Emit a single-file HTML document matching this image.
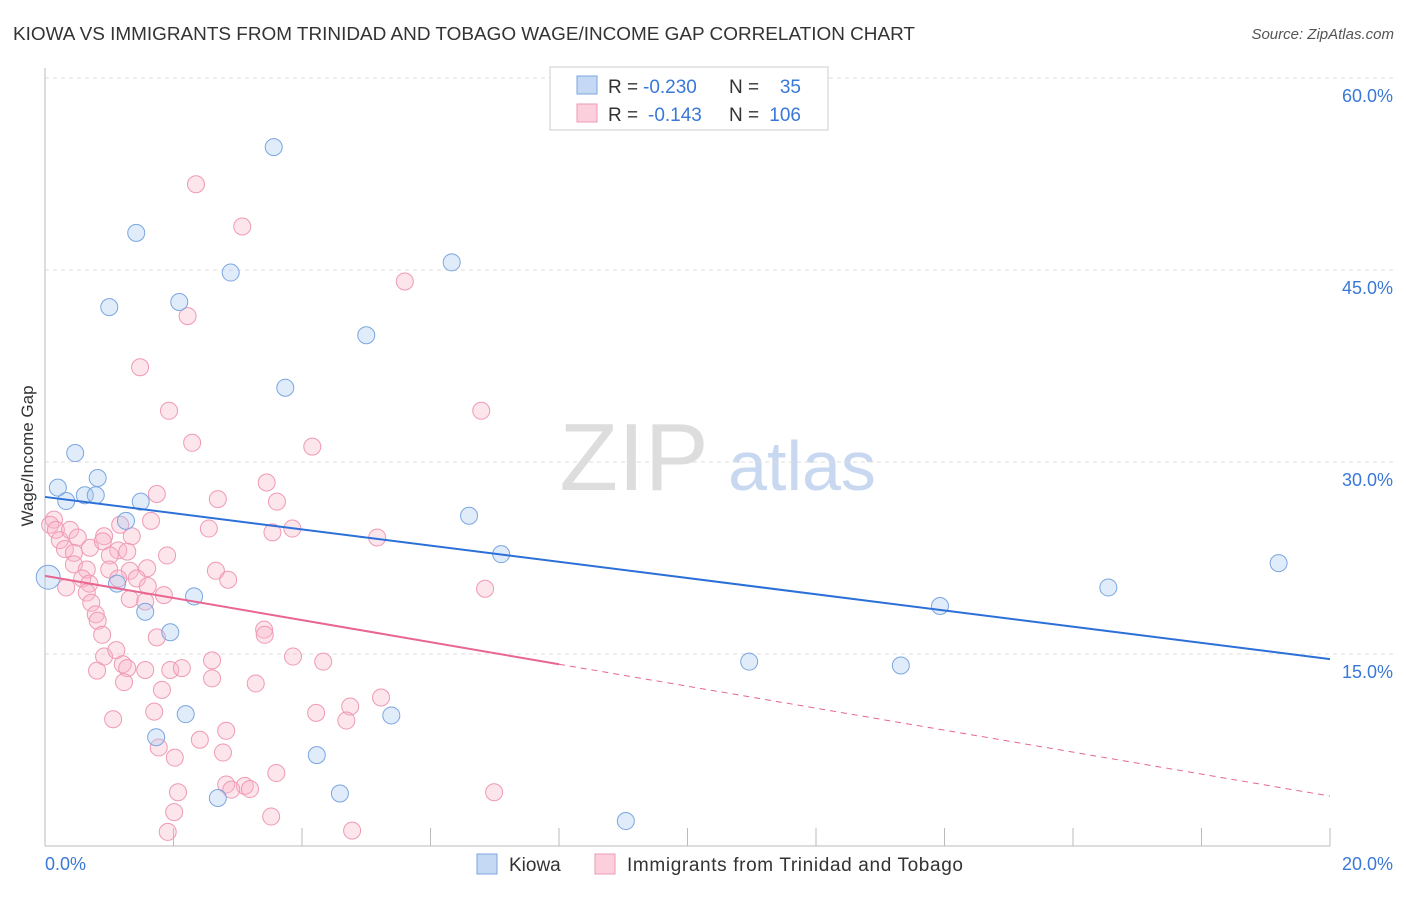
<!DOCTYPE html>
<html><head><meta charset="utf-8"><style>
body{margin:0;background:#fff;font-family:"Liberation Sans",sans-serif;}
svg text{font-family:"Liberation Sans",sans-serif;}
</style></head><body>
<svg id="chart" width="1406" height="892" viewBox="0 0 1406 892">
<text x="13" y="40" font-size="18" fill="#333" textLength="902" lengthAdjust="spacingAndGlyphs">KIOWA VS IMMIGRANTS FROM TRINIDAD AND TOBAGO WAGE/INCOME GAP CORRELATION CHART</text>
<text x="1394" y="39" font-size="15" fill="#555" font-style="italic" text-anchor="end">Source: ZipAtlas.com</text>
<text x="634" y="490" font-size="96" fill="#ddd" font-family="Liberation Serif" text-anchor="middle">ZIP</text>
<text x="802" y="490" font-size="70" fill="#c8d8f0" text-anchor="middle">atlas</text>
<g id="grid"></g>
<g id="axes"></g>
<g id="pts"></g>
<g id="lines"></g>
<text transform="translate(33,456) rotate(-90)" font-size="17" fill="#333" text-anchor="middle">Wage/Income Gap</text>
<g>
<rect x="550" y="67" width="278" height="63" fill="#fff" stroke="#ccc"/>
<rect x="577" y="76" width="20" height="18" fill="#c5d9f5" stroke="#7aa6e0"/>
<rect x="577" y="104" width="20" height="18" fill="#fbd0dc" stroke="#ef9ab4"/>
<text x="608" y="93" font-size="19" fill="#333">R =</text>
<text x="643" y="93" font-size="19" fill="#3a78d8">-0.230</text>
<text x="729" y="93" font-size="19" fill="#333">N =</text>
<text x="801" y="93" font-size="19" fill="#3a78d8" text-anchor="end">35</text>
<text x="608" y="121" font-size="19" fill="#333">R =</text>
<text x="648" y="121" font-size="19" fill="#3a78d8">-0.143</text>
<text x="729" y="121" font-size="19" fill="#333">N =</text>
<text x="801" y="121" font-size="19" fill="#3a78d8" text-anchor="end">106</text>
</g>
<g>
<rect x="477" y="854" width="20" height="20" fill="#c5d9f5" stroke="#7aa6e0"/>
<text x="509" y="871" font-size="19" fill="#333">Kiowa</text>
<rect x="595" y="854" width="20" height="20" fill="#fbd0dc" stroke="#ef9ab4"/>
<text x="627" y="871" font-size="19" fill="#333" textLength="336">Immigrants from Trinidad and Tobago</text>
</g>
</svg>
<script>
const xTicks=[0,2,4,6,8,10,12,14,16,18,20];
const yTicks=[15,30,45,60];
const yTickLabels=["15.0%","30.0%","45.0%","60.0%"];
const blueX=[3.56,1.42,2.89,6.33,1.0,2.09,5.0,3.74,0.47,0.82,0.2,0.33,0.62,0.79,1.49,1.26,6.6,7.1,19.2,16.55,0.05,1.12,2.32,1.56,13.93,1.95,10.96,13.32,2.19,5.39,1.73,4.23,4.59,2.69,9.04];
const blueY=[54.6,47.9,44.8,45.6,42.1,42.5,39.9,35.8,30.7,28.75,28.0,26.95,27.4,27.4,26.9,25.4,25.8,22.8,22.1,20.2,21.0,20.5,19.5,18.3,18.75,16.7,14.4,14.1,10.3,10.2,8.5,7.1,4.1,3.75,1.95];
const pinkX=[2.35,3.07,5.6,2.22,1.48,1.93,6.79,2.29,4.16,3.45,1.74,2.69,3.61,1.65,2.55,3.85,3.54,5.17,0.14,0.08,0.17,0.23,0.39,0.51,0.92,1.17,1.35,0.31,0.45,0.7,0.9,1.14,1.28,1.01,1.9,0.45,0.65,1.0,1.32,1.59,2.66,0.58,0.69,1.14,1.43,2.85,0.33,1.6,0.65,1.32,1.85,1.56,0.72,0.79,0.82,0.89,1.74,3.41,3.42,3.86,0.92,1.11,2.6,4.33,1.21,1.28,0.81,1.56,1.95,2.13,2.6,1.23,3.28,1.82,5.23,4.75,1.7,4.22,4.69,1.06,2.82,2.41,1.77,2.77,2.02,3.6,2.82,3.11,3.19,2.9,2.07,6.99,2.01,3.52,1.91,4.78,6.85];
const pinkY=[51.7,48.4,44.1,41.4,37.4,34.0,34.0,31.5,31.2,28.4,27.5,27.1,26.9,25.4,24.8,24.8,24.5,24.1,25.5,25.1,24.7,23.9,24.7,24.1,24.2,25.1,24.2,23.2,22.9,23.3,23.8,23.1,23.0,22.7,22.7,22.0,21.6,21.6,21.5,21.7,21.5,20.9,20.5,20.9,20.9,20.8,20.2,20.3,19.8,19.3,19.6,19.1,19.0,18.1,17.6,16.5,16.3,16.9,16.5,14.8,14.8,15.3,14.5,14.4,14.2,13.9,13.7,13.75,13.75,13.9,13.1,12.8,12.7,12.2,11.6,10.9,10.5,10.4,9.8,9.9,9.0,8.3,7.7,7.3,6.9,5.7,4.8,4.7,4.45,4.4,4.2,4.2,2.65,2.3,1.1,1.2,20.1];
const blueTrend=[27.27,14.6];
const pinkTrend=[21.1,14.2,3.9];
const X=v=>45+v*64.25, Y=v=>846-v*12.8;
const NS="http://www.w3.org/2000/svg";
function mk(tag,attrs,parent){const e=document.createElementNS(NS,tag);for(const k in attrs)e.setAttribute(k,attrs[k]);document.getElementById(parent).appendChild(e);return e;}
yTicks.forEach((t,i)=>{
 const l=mk('line',{x1:45,x2:1394,y1:Y(t),y2:Y(t),stroke:'#ddd','stroke-dasharray':'4,4'},'grid');
 
 
 const tx=mk('text',{x:1393,y:Y(t)+24,'font-size':18,fill:'#3a78d8','text-anchor':'end'},'axes');
 tx.textContent=yTickLabels[i];
 
 
});
const ax=mk('line',{x1:45,x2:1330,y1:846,y2:846,stroke:'#bbb'},'axes');


const ay=mk('line',{x1:45,x2:45,y1:68,y2:846,stroke:'#bbb'},'axes');


xTicks.forEach(t=>{
 const l=mk('line',{x1:X(t),x2:X(t),y1:828,y2:846,stroke:'#bbb'},'axes');
 
 
});
const xl0=mk('text',{x:45,y:870,'font-size':18,fill:'#3a78d8'},'axes');xl0.textContent=xTicks[0].toFixed(1)+'%';


const xl1=mk('text',{x:1393,y:870,'font-size':18,fill:'#3a78d8','text-anchor':'end'},'axes');xl1.textContent=xTicks[xTicks.length-1].toFixed(1)+'%';


pinkX.forEach((v,i)=>{
 const c=mk('circle',{cx:X(v),cy:Y(pinkY[i]),r:8.5,fill:'rgba(248,180,200,0.35)',stroke:'#ef9ab4','stroke-width':1},'pts');
 
 
});
blueX.forEach((v,i)=>{
 const c=mk('circle',{cx:X(v),cy:Y(blueY[i]),r:(i==20?12:8.5),fill:'rgba(170,200,240,0.35)',stroke:'#7aa6e0','stroke-width':1},'pts');
 
 
});
const bl=mk('line',{x1:X(0),y1:Y(blueTrend[0]),x2:X(20),y2:Y(blueTrend[1]),stroke:'#2b6fd8','stroke-width':2},'lines');


const pl=mk('line',{x1:X(0),y1:Y(pinkTrend[0]),x2:X(8),y2:Y(pinkTrend[1]),stroke:'#e8668f','stroke-width':2},'lines');


const pd=mk('line',{x1:X(8),y1:Y(pinkTrend[1]),x2:X(20),y2:Y(pinkTrend[2]),stroke:'#e8668f','stroke-width':1,'stroke-dasharray':'6,5'},'lines');


</script>
</body></html>
